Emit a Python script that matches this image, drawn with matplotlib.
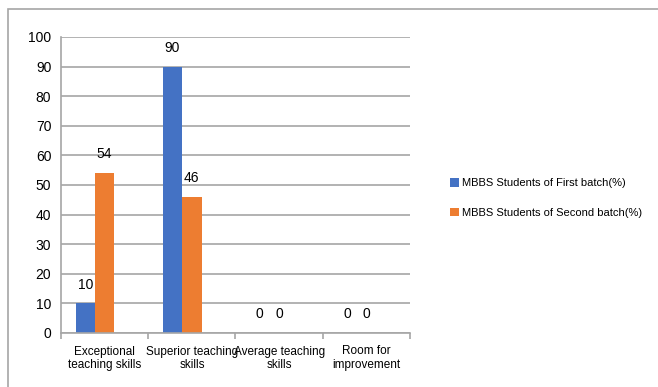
import matplotlib
matplotlib.use("Agg")
import matplotlib.pyplot as plt
import numpy as np
from matplotlib.patches import Rectangle
from matplotlib import font_manager

# Chart data
categories = ["Exceptional\nteaching skills", "Superior teaching\nskills",
              "Average teaching\nskills", "Room for\nimprovement"]
first_batch = [10, 90, 0, 0]
second_batch = [54, 46, 0, 0]
series_names = ["MBBS Students of First batch(%)", "MBBS Students of Second batch(%)"]
y_ticks = [0, 10, 20, 30, 40, 50, 60, 70, 80, 90, 100]

names = {f.name for f in font_manager.fontManager.ttflist}
family = ["Liberation Sans Narrow"] if "Liberation Sans Narrow" in names else ["Liberation Sans"]
plt.rcParams["font.family"] = family + ["DejaVu Sans"]

W, H = 658, 387
fig = plt.figure(figsize=(W / 100, H / 100), dpi=100)

# Outer frame of the chart area
fig.patches.append(Rectangle((8 / W, -0.05), 1.1, (H - 9) / H + 0.05,
                             transform=fig.transFigure, fill=False,
                             edgecolor="#a6a6a6", linewidth=1.2))

ax = fig.add_axes([61 / W, (H - 333) / H, (410 - 61) / W, (333 - 37) / H])

blue = "#4472c4"
orange = "#ed7d31"
x = np.arange(len(categories))
bw = 1 / 4.5  # three slots per group with 50% gap

b1 = ax.bar(x - bw, first_batch, bw, color=blue, label=series_names[0])
b2 = ax.bar(x, second_batch, bw, color=orange, label=series_names[1])

for bars, vals in ((b1, first_batch), (b2, second_batch)):
    for rect, v in zip(bars, vals):
        ax.text(rect.get_x() + rect.get_width() / 2, v + 4, f"{v}",
                ha="center", va="bottom", fontsize=10, color="#000000")

ax.set_xlim(-0.5, len(categories) - 0.5)
ax.set_ylim(0, 100)
ax.set_yticks(y_ticks)
ax.tick_params(axis="y", length=0, labelsize=10, pad=7)
ax.yaxis.grid(True, color="#a6a6a6", linewidth=1.2)
ax.set_axisbelow(True)

ax.set_xticks(x)
ax.set_xticklabels(categories, fontsize=8.5, linespacing=1.15)
ax.tick_params(axis="x", length=0, pad=9)
# boundary ticks between categories
ax.set_xticks(np.arange(-0.5, len(categories)), minor=True)
ax.tick_params(axis="x", which="minor", length=4, color="#a6a6a6", width=1.2)

for s in ("top", "right"):
    ax.spines[s].set_visible(False)
ax.spines["left"].set_color("#a6a6a6")
ax.spines["bottom"].set_color("#a6a6a6")
ax.spines["left"].set_linewidth(1.2)
ax.spines["bottom"].set_linewidth(1.2)

fig.legend(handles=[b1, b2], loc="center left",
           bbox_to_anchor=(440 / W, 1 - 198 / H), frameon=False,
           fontsize=8, handlelength=0.8, handleheight=0.8,
           handletextpad=0.25, labelspacing=1.75)

fig.savefig("out.png", dpi=100)
